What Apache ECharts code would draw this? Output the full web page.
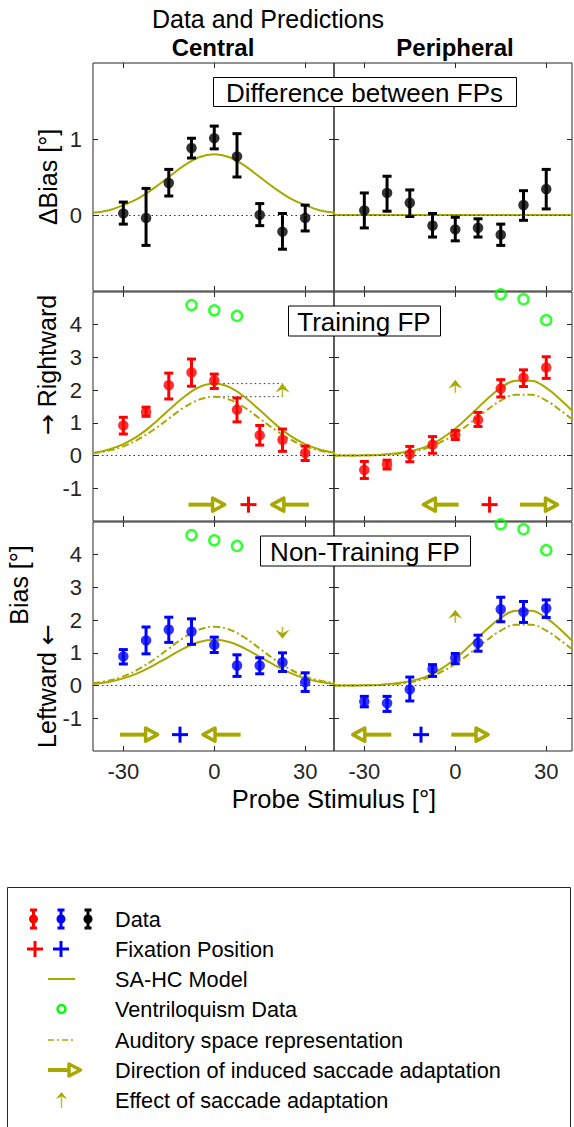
<!DOCTYPE html>
<html><head><meta charset="utf-8">
<script src="https://cdn.jsdelivr.net/npm/echarts@6/dist/echarts.min.js"></script>
<style>html,body{margin:0;padding:0;background:#fff;}#c{width:574px;height:1127px;}</style>
</head><body><div id="c"></div>
<script>
// ---------------- DATA ----------------
const probeX = [-30, -22.5, -15, -7.5, 0, 7.5, 15, 22.5, 30];

const diffCentralMean = [0.02, -0.04, 0.42, 0.88, 1.01, 0.77, 0.00, -0.22, -0.04];
const diffCentralLow  = [-0.12, -0.40, 0.25, 0.75, 0.87, 0.50, -0.14, -0.45, -0.21];
const diffCentralHigh = [0.17, 0.35, 0.60, 1.01, 1.17, 1.07, 0.15, 0.02, 0.13];

const diffPeriphMean = [0.06, 0.29, 0.16, -0.14, -0.19, -0.17, -0.26, 0.13, 0.34];
const diffPeriphLow  = [-0.17, 0.05, -0.02, -0.29, -0.34, -0.29, -0.40, -0.07, 0.08];
const diffPeriphHigh = [0.29, 0.51, 0.33, 0.02, -0.03, -0.05, -0.12, 0.32, 0.60];

const trainCentralMean = [0.92, 1.33, 2.15, 2.54, 2.29, 1.40, 0.62, 0.48, 0.08];
const trainCentralLow  = [0.66, 1.20, 1.73, 2.12, 2.05, 1.03, 0.32, 0.13, -0.15];
const trainCentralHigh = [1.17, 1.48, 2.52, 2.95, 2.49, 1.76, 0.92, 0.81, 0.29];

const trainPeriphMean = [-0.44, -0.27, 0.04, 0.33, 0.63, 1.09, 2.05, 2.38, 2.69];
const trainPeriphLow  = [-0.70, -0.41, -0.19, 0.07, 0.49, 0.89, 1.79, 2.11, 2.36];
const trainPeriphHigh = [-0.18, -0.14, 0.28, 0.58, 0.77, 1.32, 2.32, 2.62, 3.02];

const nonCentralMean = [0.89, 1.38, 1.71, 1.65, 1.24, 0.61, 0.61, 0.71, 0.10];
const nonCentralLow  = [0.66, 0.97, 1.32, 1.26, 1.01, 0.28, 0.36, 0.43, -0.18];
const nonCentralHigh = [1.10, 1.79, 2.09, 2.04, 1.48, 0.94, 0.85, 1.00, 0.39];

const nonPeriphMean = [-0.49, -0.54, -0.12, 0.50, 0.85, 1.30, 2.33, 2.25, 2.36];
const nonPeriphLow  = [-0.65, -0.79, -0.47, 0.28, 0.67, 1.05, 1.95, 1.93, 2.08];
const nonPeriphHigh = [-0.33, -0.33, 0.26, 0.64, 0.98, 1.54, 2.70, 2.57, 2.62];

const ventCentralX = [-7.5, 0, 7.5];
const ventCentralY = [4.60, 4.44, 4.27];
const ventPeriphX = [15, 22.5, 30];
const ventPeriphY = [4.93, 4.78, 4.14];

const modelX = [-40, -35, -30, -25, -20, -15, -10, -5, 0, 5, 10, 15, 20, 25, 30, 35, 40];
const modelCentralDiff     = [0.03, 0.06, 0.13, 0.22, 0.35, 0.50, 0.65, 0.76, 0.80, 0.76, 0.65, 0.50, 0.35, 0.22, 0.13, 0.06, 0.03];
const modelPeriphDiff      = [0, 0, 0, 0, 0, 0, 0, 0, 0, 0, 0, 0, 0, 0, 0, 0, 0];
const modelCentralTrain    = [0.08, 0.18, 0.35, 0.61, 0.97, 1.39, 1.79, 2.09, 2.20, 2.09, 1.79, 1.39, 0.97, 0.61, 0.35, 0.18, 0.08];
const modelCentralNonTrain = [0.05, 0.11, 0.22, 0.39, 0.62, 0.88, 1.14, 1.33, 1.40, 1.33, 1.14, 0.88, 0.62, 0.39, 0.22, 0.11, 0.05];
const audCentral           = [0.07, 0.15, 0.28, 0.50, 0.79, 1.13, 1.47, 1.71, 1.80, 1.71, 1.47, 1.13, 0.79, 0.50, 0.28, 0.15, 0.07];
const modelPeriph          = [0.00, 0.00, 0.01, 0.02, 0.06, 0.13, 0.26, 0.49, 0.82, 1.24, 1.68, 2.07, 2.29, 2.29, 2.07, 1.68, 1.24];
const audPeriph            = [0.00, 0.00, 0.01, 0.02, 0.05, 0.10, 0.21, 0.40, 0.66, 1.00, 1.36, 1.68, 1.86, 1.86, 1.68, 1.36, 1.00];

// fixation positions and direction-of-adaptation arrows [tailX, tipX]
const fixY = -1.5;
const fixTrainX = 11.3;
const fixNonX = -11.3;
const dirTrainCentral = [[-8.5, 3.9], [31.2, 18.5]];
const dirTrainPeriph  = [[1.1, -11.0], [21.3, 34.2]];
const dirNonCentral   = [[-31.1, -18.2], [8.7, -4.2]];
const dirNonPeriph    = [[-21.1, -34.3], [-1.3, 11.3]];
// effect-of-adaptation arrows [x, from, to]
const effTrainCentral = [22.5, 1.80, 2.20];
const effTrainPeriph  = [0, 1.92, 2.32];
const effNonCentral   = [22.5, 1.80, 1.43];
const effNonPeriph    = [0, 1.92, 2.32];
const guideX = [0, 22.5];

const xTicks = [-30, 0, 30];
const yTicksDiff = [0, 1];
const yTicksBias = [-1, 0, 1, 2, 3, 4];

// ---------------- STYLE ----------------
const FONT = "'Liberation Sans', Arial, Helvetica, sans-serif";
const TXT = '#262626';
const OLIVE = '#a8a800';
const RED = '#ff0000', BLUE = '#0000ff', BLACK = '#000000', GREEN = '#00ff00';

const panels = [
  {grid:{left:93, top:63, width:241, height:228}, xmax:39.5, ymin:-1, ymax:2, yt:yTicksDiff, showY:true,  showX:false},
  {grid:{left:334, top:63, width:238, height:228}, xmax:38.5, ymin:-1, ymax:2, yt:yTicksDiff, showY:false, showX:false},
  {grid:{left:93, top:292, width:241, height:229}, xmax:39.5, ymin:-2, ymax:5, yt:yTicksBias, showY:true,  showX:false},
  {grid:{left:334, top:292, width:238, height:229}, xmax:38.5, ymin:-2, ymax:5, yt:yTicksBias, showY:false, showX:false},
  {grid:{left:93, top:522, width:241, height:229}, xmax:39.5, ymin:-2, ymax:5, yt:yTicksBias, showY:true,  showX:true},
  {grid:{left:334, top:522, width:238, height:229}, xmax:38.5, ymin:-2, ymax:5, yt:yTicksBias, showY:false, showX:true}
];

const grids = [], xAxes = [], yAxes = [];
panels.forEach((p, i) => {
  grids.push(Object.assign({show:true, borderColor:TXT, borderWidth:1, backgroundColor:'transparent'}, p.grid));
  const tick = {show:true, inside:true, length:5, lineStyle:{color:TXT, width:1}};
  const lab = {fontSize:22, color:TXT, fontFamily:FONT};
  ['bottom','top'].forEach(pos => {
    xAxes.push({type:'value', gridIndex:i, min:-40, max:p.xmax, position:pos,
      axisLine:{show:false, onZero:false}, splitLine:{show:false},
      axisTick:Object.assign({customValues:xTicks}, tick),
      axisLabel:Object.assign({show:p.showX && pos==='bottom', customValues:xTicks, margin:9}, lab)});
  });
  ['left','right'].forEach(pos => {
    yAxes.push({type:'value', gridIndex:i, min:p.ymin, max:p.ymax, position:pos,
      axisLine:{show:false, onZero:false}, splitLine:{show:false},
      axisTick:Object.assign({customValues:p.yt}, tick),
      axisLabel:Object.assign({show:p.showY && pos==='left', customValues:p.yt, margin:11}, lab)});
  });
});

const series = [];
function ax(i){ return {xAxisIndex:2*i, yAxisIndex:2*i}; }

function zeroLine(i){
  series.push(Object.assign({type:'line', data:[], silent:true,
    markLine:{symbol:'none', silent:true, label:{show:false},
      lineStyle:{type:[1.5,3], color:'#333', width:1}, data:[{yAxis:0}]}}, ax(i)));
}
function model(i, vals, dashed){
  series.push(Object.assign({type:'line', smooth:0.4, symbol:'none', z:2, silent:true,
    lineStyle:{color:OLIVE, width:2, type: dashed ? [7,3,2,3] : 'solid'},
    data: modelX.map((x,k)=>[x, vals[k]])}, ax(i)));
}
function dataPts(i, mean, low, high, color){
  series.push(Object.assign({type:'custom', z:3, silent:true,
    data: probeX.map((x,k)=>[x, low[k], high[k]]),
    renderItem:(params, api)=>{
      const x = api.value(0);
      const lo = api.coord([x, api.value(1)]);
      const hi = api.coord([x, api.value(2)]);
      const w = 4.5, st = {stroke:color, lineWidth:3};
      return {type:'group', children:[
        {type:'line', shape:{x1:lo[0], y1:lo[1], x2:hi[0], y2:hi[1]}, style:st},
        {type:'line', shape:{x1:lo[0]-w, y1:lo[1], x2:lo[0]+w, y2:lo[1]}, style:st},
        {type:'line', shape:{x1:hi[0]-w, y1:hi[1], x2:hi[0]+w, y2:hi[1]}, style:st}
      ]};
    }}, ax(i)));
  series.push(Object.assign({type:'scatter', z:4, silent:true, symbol:'circle', symbolSize:10.5,
    itemStyle:{color:color}, data: probeX.map((x,k)=>[x, mean[k]])}, ax(i)));
}
function vent(i, xs, ys){
  series.push(Object.assign({type:'scatter', z:4, silent:true, symbol:'circle', symbolSize:10,
    itemStyle:{color:'rgba(0,0,0,0)', borderColor:GREEN, borderWidth:2.5},
    data: xs.map((x,k)=>[x, ys[k]])}, ax(i)));
}
function dirArrows(i, arrows){
  series.push(Object.assign({type:'custom', z:5, silent:true,
    data: arrows.map(a=>[a[0], a[1], fixY]),
    renderItem:(params, api)=>{
      const t = api.coord([api.value(0), api.value(2)]);
      const h = api.coord([api.value(1), api.value(2)]);
      const d = Math.sign(h[0]-t[0]);
      const L = 12, W = 6.5;
      const tip = h[0] - d*1.5, bx = tip - d*L;
      return {type:'group', children:[
        {type:'line', shape:{x1:t[0], y1:t[1], x2:bx, y2:h[1]}, style:{stroke:OLIVE, lineWidth:4}},
        {type:'polygon', shape:{points:[[tip,h[1]],[bx,h[1]-W],[bx,h[1]+W]]},
          style:{fill:'#fff', stroke:OLIVE, lineWidth:3.5, lineJoin:'round'}}
      ]};
    }}, ax(i)));
}
function fixation(i, x, color){
  series.push(Object.assign({type:'custom', z:5, silent:true, data:[[x, fixY]],
    renderItem:(params, api)=>{
      const c = api.coord([api.value(0), api.value(1)]);
      const s = 8, st = {stroke:color, lineWidth:3};
      return {type:'group', children:[
        {type:'line', shape:{x1:c[0]-s, y1:c[1], x2:c[0]+s, y2:c[1]}, style:st},
        {type:'line', shape:{x1:c[0], y1:c[1]-s, x2:c[0], y2:c[1]+s}, style:st}
      ]};
    }}, ax(i)));
}
function effect(i, e){
  series.push(Object.assign({type:'custom', z:5, silent:true, data:[e],
    renderItem:(params, api)=>{
      const a = api.coord([api.value(0), api.value(1)]);
      const b = api.coord([api.value(0), api.value(2)]);
      const d = Math.sign(b[1]-a[1]);
      const H = 9, W = 7;
      return {type:'group', children:[
        {type:'line', shape:{x1:a[0], y1:a[1], x2:b[0], y2:b[1]-d*4}, style:{stroke:OLIVE, lineWidth:1.6, opacity:0.75}},
        {type:'polygon', shape:{points:[[b[0],b[1]],[b[0]-W,b[1]-d*H],[b[0],b[1]-d*5.5],[b[0]+W,b[1]-d*H]]},
          style:{fill:OLIVE}}
      ]};
    }}, ax(i)));
}
function guides(i, ys){
  ys.forEach(y => series.push(Object.assign({type:'line', symbol:'none', silent:true, z:1,
    lineStyle:{color:'#333', width:1, type:[1.5,3]}, data: guideX.map(x=>[x, y])}, ax(i))));
}

// panel 0: difference central
zeroLine(0); model(0, modelCentralDiff, false);
dataPts(0, diffCentralMean, diffCentralLow, diffCentralHigh, BLACK);
// panel 1: difference peripheral
zeroLine(1); model(1, modelPeriphDiff, false);
dataPts(1, diffPeriphMean, diffPeriphLow, diffPeriphHigh, BLACK);
// panel 2: training central
zeroLine(2); guides(2, [effTrainCentral[1], effTrainCentral[2]]);
model(2, audCentral, true); model(2, modelCentralTrain, false);
dataPts(2, trainCentralMean, trainCentralLow, trainCentralHigh, RED);
vent(2, ventCentralX, ventCentralY);
dirArrows(2, dirTrainCentral); fixation(2, fixTrainX, RED); effect(2, effTrainCentral);
// panel 3: training peripheral
zeroLine(3); model(3, audPeriph, true); model(3, modelPeriph, false);
dataPts(3, trainPeriphMean, trainPeriphLow, trainPeriphHigh, RED);
vent(3, ventPeriphX, ventPeriphY);
dirArrows(3, dirTrainPeriph); fixation(3, fixTrainX, RED); effect(3, effTrainPeriph);
// panel 4: non-training central
zeroLine(4); model(4, audCentral, true); model(4, modelCentralNonTrain, false);
dataPts(4, nonCentralMean, nonCentralLow, nonCentralHigh, BLUE);
vent(4, ventCentralX, ventCentralY);
dirArrows(4, dirNonCentral); fixation(4, fixNonX, BLUE); effect(4, effNonCentral);
// panel 5: non-training peripheral
zeroLine(5); model(5, audPeriph, true); model(5, modelPeriph, false);
dataPts(5, nonPeriphMean, nonPeriphLow, nonPeriphHigh, BLUE);
vent(5, ventPeriphX, ventPeriphY);
dirArrows(5, dirNonPeriph); fixation(5, fixNonX, BLUE); effect(5, effNonPeriph);

// ---------------- TEXT & LEGEND (graphic) ----------------
function txt(s, x, y, size, opts){
  const style = {text:s, fontSize:size, fontFamily:FONT, fill:'#000', align:'center', verticalAlign:'middle',
      textAlign:'center', textVerticalAlign:'middle', fontWeight:(opts&&opts.bold)?'bold':'normal'};
  if (opts && opts.rich) style.rich = opts.rich;
  return Object.assign({type:'text', x:x, y:y, z:10, silent:true, style:style},
    opts && opts.rot ? {rotation:Math.PI/2} : {});
}
function boxLabel(s, cx, cy, w, h){
  return {type:'group', z:10, silent:true, children:[
    {type:'rect', shape:{x:cx-w/2+0.5, y:cy-h/2+0.5, width:w, height:h}, style:{fill:'#fff', stroke:'#000', lineWidth:1}, z:10},
    txt(s, cx, cy+1, 26)
  ]};
}
const arrowRich = {a:{fontFamily:"'DejaVu Sans', sans-serif", fontSize:25, fill:'#000'},
                   t:{fontFamily:FONT, fontSize:25, fill:'#000'}};
const graphic = [
  txt('Data and Predictions', 268, 19, 25),
  txt('Central', 213, 47, 24, {bold:true}),
  txt('Peripheral', 455, 47, 24, {bold:true}),
  boxLabel('Difference between FPs', 364.5, 91.5, 303, 29),
  boxLabel('Training FP', 364, 320.5, 152, 30),
  boxLabel('Non-Training FP', 365, 550.5, 210, 30),
  txt('\u0394Bias [\u00b0]', 48, 177, 25, {rot:true}),
  txt('{a|\u2192} {t|Rightward}', 47, 365, 25, {rot:true, rich:arrowRich}),
  txt('Bias [\u00b0]', 19, 585, 25, {rot:true}),
  txt('{t|Leftward} {a|\u2190}', 47, 686, 25, {rot:true, rich:arrowRich}),
  txt('Probe Stimulus [\u00b0]', 334, 799, 25.5)
];

// legend
const legendLabels = ['Data', 'Fixation Position', 'SA-HC Model', 'Ventriloquism Data',
  'Auditory space representation', 'Direction of induced saccade adaptation', 'Effect of saccade adaptation'];
const rowY = [919, 949, 979, 1009, 1040, 1070, 1100];
const lgd = [{type:'rect', shape:{x:7.5, y:887.5, width:563, height:260}, style:{fill:'#fff', stroke:TXT, lineWidth:1}}];
legendLabels.forEach((s, k) => lgd.push({type:'text', x:115, y:rowY[k],
  style:{text:s, fontSize:21.7, fontFamily:FONT, fill:'#000', align:'left', verticalAlign:'middle', textAlign:'left', textVerticalAlign:'middle'}}));
[[33.5, RED], [61, BLUE], [88, BLACK]].forEach(([x, c]) => {
  const y = rowY[0], st = {stroke:c, lineWidth:3};
  lgd.push({type:'line', shape:{x1:x, y1:y-9, x2:x, y2:y+9}, style:st});
  lgd.push({type:'line', shape:{x1:x-3.5, y1:y-9, x2:x+3.5, y2:y-9}, style:st});
  lgd.push({type:'line', shape:{x1:x-3.5, y1:y+9, x2:x+3.5, y2:y+9}, style:st});
  lgd.push({type:'circle', shape:{cx:x, cy:y, r:4.5}, style:{fill:c}});
});
[[35, RED], [61, BLUE]].forEach(([x, c]) => {
  const y = rowY[1], st = {stroke:c, lineWidth:3};
  lgd.push({type:'line', shape:{x1:x-8, y1:y, x2:x+8, y2:y}, style:st});
  lgd.push({type:'line', shape:{x1:x, y1:y-8, x2:x, y2:y+8}, style:st});
});
lgd.push({type:'line', shape:{x1:48, y1:rowY[2], x2:75, y2:rowY[2]}, style:{stroke:OLIVE, lineWidth:2}});
lgd.push({type:'circle', shape:{cx:61.5, cy:rowY[3], r:4}, style:{fill:'none', stroke:GREEN, lineWidth:2.5}});
lgd.push({type:'line', shape:{x1:48, y1:rowY[4], x2:74, y2:rowY[4]}, style:{stroke:OLIVE, lineWidth:1.5, lineDash:[6,3,2,3]}});
lgd.push({type:'line', shape:{x1:48, y1:rowY[5], x2:70, y2:rowY[5]}, style:{stroke:OLIVE, lineWidth:4}});
lgd.push({type:'polygon', shape:{points:[[80.5,rowY[5]],[69,rowY[5]-6],[69,rowY[5]+6]]}, style:{fill:'#fff', stroke:OLIVE, lineWidth:3.5, lineJoin:'round'}});
lgd.push({type:'line', shape:{x1:61.5, y1:rowY[6]+8, x2:61.5, y2:rowY[6]-3}, style:{stroke:OLIVE, lineWidth:1.5, opacity:0.75}});
lgd.push({type:'polygon', shape:{points:[[61.5,rowY[6]-8],[56,rowY[6]-1],[61.5,rowY[6]-3.5],[67,rowY[6]-1]]}, style:{fill:OLIVE}});
graphic.push({type:'group', silent:true, children:lgd});

const chart = echarts.init(document.getElementById('c'), null, {renderer:'svg'});
chart.setOption({
  animation:false, backgroundColor:'#fff',
  grid:grids, xAxis:xAxes, yAxis:yAxes, series:series, graphic:graphic
});
</script></body></html>
